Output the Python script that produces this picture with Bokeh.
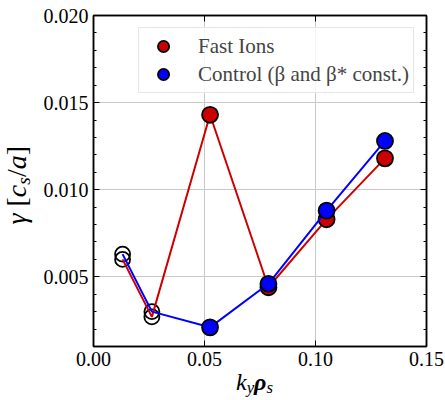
import numpy as np
from bokeh.plotting import figure
from bokeh.layouts import row, column
from bokeh.models import (Range1d, LinearAxis, FixedTicker, NumeralTickFormatter,
                          Legend, LegendItem, Div, CustomJSTickFormatter)
from bokeh.embed import file_html
from bokeh.resources import INLINE

# ---- data ----
ky = [0.0131, 0.0263, 0.0525, 0.0788, 0.1050, 0.1313]
gamma_fast = [0.0060, 0.0027, 0.0143, 0.0044, 0.0083, 0.0118]
gamma_ctrl = [0.0063, 0.0030, 0.0021, 0.0046, 0.0088, 0.0128]
n_open = 2  # first two points drawn as open circles
x_ticks = [0.00, 0.05, 0.10, 0.15]
y_ticks = [0.005, 0.010, 0.015, 0.020]
y_minor = [i / 1000 for i in range(1, 21)]
label_fast = "Fast Ions"
label_ctrl = "Control (β and β* const.)"
SUB = '<span style="font-size:70%;vertical-align:-0.2em;">'
xlabel_html = '<i>k</i>' + SUB + '<i>y</i></span><b><i>ρ</i></b>' + SUB + '<i>s</i></span>'
ylabel_html = '<i>γ</i> [<i>c</i><sub style="font-size:70%"><i>s</i></sub>/<i>a</i>]'

RED = "#cc0000"
BLUE = "#0000ff"
FONT = "Liberation Serif"

W, H = 445, 400
YL_W = 40            # width of the y-label column
FIG_H = 372          # height of figure
L, R, T, B = 93, 426, 15, 346   # frame edges on the page

p = figure(width=W - YL_W, height=FIG_H, x_range=Range1d(0, 0.15), y_range=Range1d(0.001, 0.020),
           output_backend="svg", toolbar_location=None,
           min_border_left=L - YL_W, min_border_right=W - R, min_border_top=T,
           min_border_bottom=FIG_H - B, margin=0)
p.outline_line_color = "black"
p.outline_line_width = 1.5
p.background_fill_color = "white"
p.border_fill_color = "white"

xt = FixedTicker(ticks=x_ticks, minor_ticks=[])
yt = FixedTicker(ticks=y_ticks, minor_ticks=y_minor)
bottom_ax = p.xaxis[0]
left_ax = p.yaxis[0]
bottom_ax.ticker = xt
left_ax.ticker = yt
bottom_ax.formatter = NumeralTickFormatter(format="0.00")
left_ax.formatter = NumeralTickFormatter(format="0.000")

blank = CustomJSTickFormatter(code="return ''")
top_ax = LinearAxis(ticker=FixedTicker(ticks=x_ticks, minor_ticks=[]), formatter=blank)
right_ax = LinearAxis(ticker=FixedTicker(ticks=y_ticks, minor_ticks=y_minor), formatter=blank)
p.add_layout(top_ax, "above")
p.add_layout(right_ax, "right")

for ax in [bottom_ax, left_ax, top_ax, right_ax]:
    ax.axis_line_color = "black"
    ax.axis_line_width = 1.5
    ax.major_tick_in = 6
    ax.major_tick_out = 0
    ax.minor_tick_in = 3
    ax.minor_tick_out = 0
    ax.major_tick_line_color = "black"
    ax.minor_tick_line_color = "black"
    ax.major_tick_line_width = 1
    ax.minor_tick_line_width = 1
    ax.major_label_text_font = FONT
    ax.major_label_text_font_size = "20px"
    ax.major_label_text_color = "black"
    ax.major_label_standoff = 5
    ax.axis_label = None

p.grid.grid_line_color = "#c8c8c8"
p.grid.grid_line_width = 1
p.xgrid.ticker = xt
p.ygrid.ticker = yt

# open circles for first points
p.scatter(ky[:n_open], gamma_fast[:n_open], size=15, fill_color=None, line_color="black", line_width=1.8)
p.scatter(ky[:n_open], gamma_ctrl[:n_open], size=15, fill_color=None, line_color="black", line_width=1.8)

p.line(ky, gamma_fast, line_color=RED, line_width=2)
r_fs = p.scatter(ky[n_open:], gamma_fast[n_open:], size=16, fill_color=RED, line_color="black", line_width=1.8)
p.line(ky, gamma_ctrl, line_color=BLUE, line_width=2)
r_cs = p.scatter(ky[n_open:], gamma_ctrl[n_open:], size=16, fill_color=BLUE, line_color="black", line_width=1.8)

legend = Legend(items=[LegendItem(label=label_fast, renderers=[r_fs]),
                       LegendItem(label=label_ctrl, renderers=[r_cs])],
                location="top_right")
legend.margin = 12
legend.padding = 4
legend.spacing = 0
legend.glyph_width = 40
legend.glyph_height = 28
legend.label_height = 28
legend.label_standoff = 15
legend.label_text_font = FONT
legend.label_text_font_size = "21px"
legend.label_text_baseline = "middle"
legend.border_line_color = "#cccccc"
legend.border_line_width = 1.2
legend.background_fill_alpha = 0.85
p.add_layout(legend)

# axis labels as HTML text
ydiv = Div(width=YL_W, height=FIG_H, margin=0,
           text=('<div style="width:%dpx;height:%dpx;display:flex;align-items:center;'
                 'justify-content:center;">'
                 '<span style="writing-mode:vertical-rl;transform:rotate(180deg);white-space:nowrap;'
                 'font-family:\'Liberation Serif\';font-size:28px;color:black;line-height:28px;">%s</span></div>')
                % (YL_W, 2 * 185, ylabel_html))
xdiv = Div(width=W, height=H - FIG_H, margin=0,
           text=('<div style="padding-left:236px;margin-top:-1px;white-space:nowrap;font-family:\'Liberation Serif\';'
                 'font-size:24px;line-height:22px;color:black;">%s</div>') % xlabel_html)

layout = column(row(ydiv, p, spacing=0), xdiv, spacing=0)
open("out.html", "w").write(file_html(layout, INLINE))
